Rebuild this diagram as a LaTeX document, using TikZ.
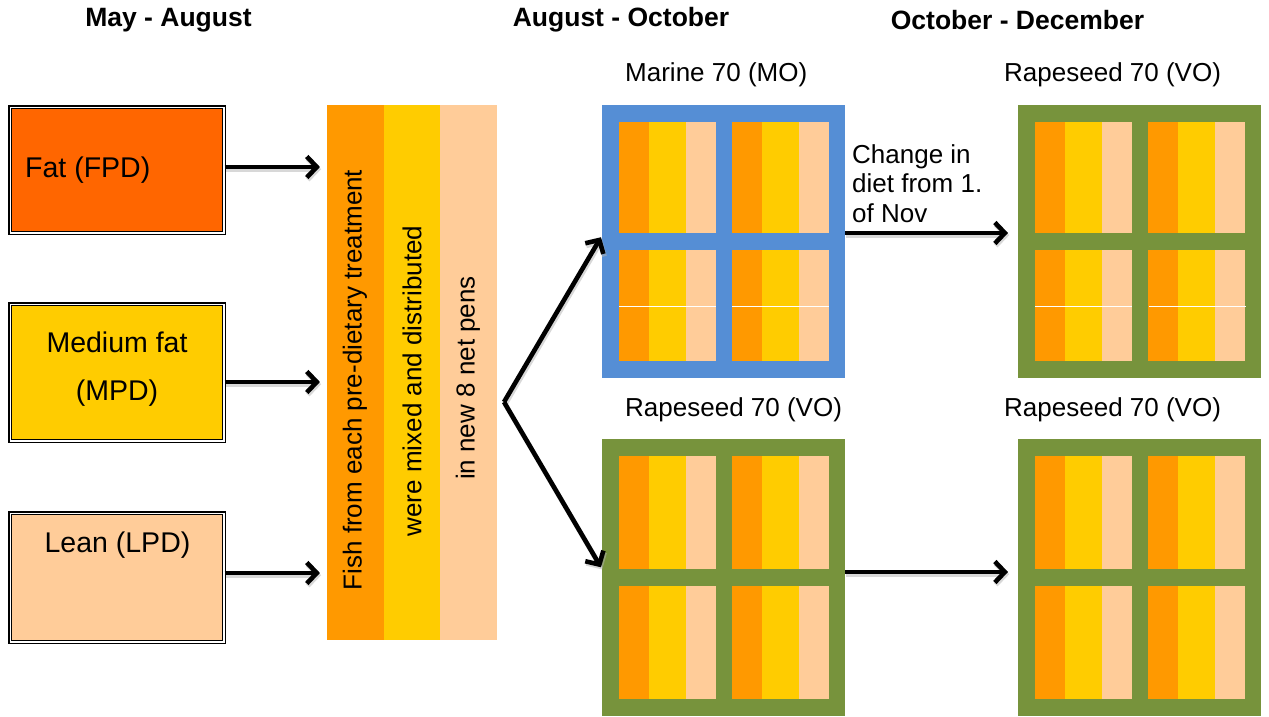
\documentclass[tikz,border=0pt]{standalone}
\usepackage{fontspec}
\setmainfont{Liberation Sans}
\usetikzlibrary{arrows.meta,calc}

\definecolor{fatfill}{HTML}{FF6600}
\definecolor{orng}{HTML}{FF9900}
\definecolor{yell}{HTML}{FFCC00}
\definecolor{peach}{HTML}{FFCC99}
\definecolor{penblue}{HTML}{558ED5}
\definecolor{pengreen}{HTML}{77933C}

\tikzset{
  groupbox/.style={draw=black, line width=1.5pt, double=white, double distance=1.2pt,
    minimum width=213.8pt, inner sep=0pt},
  stripe/.style={minimum width=56.7pt, minimum height=535pt, inner sep=0pt},
  penframe/.style={minimum width=243pt, inner sep=0pt, outer sep=0pt},
  body/.style={font=\fontsize{26}{30}\selectfont, inner sep=0pt},
  boxtext/.style={font=\fontsize{28.5}{32}\selectfont, inner sep=0pt},
  head/.style={font=\fontsize{26.5}{30}\selectfont\bfseries, inner sep=0pt},
  conn/.style={line width=4.6pt, -{Straight Barb[length=10pt,width=21pt]},
    preaction={draw=black!30, opacity=0.5, line width=5pt,
      transform canvas={shift={(1.2pt,-2.2pt)}}}},
}

% one net-pen block: frame plus four cells of three stripes each
% #1 name, #2 left x, #3 top y, #4 height, #5 frame colour
\newcommand\netpen[5]{%
  \node[penframe, fill=#5, minimum height=#4pt, anchor=north west] (#1) at (#2,#3) {};
  \pgfmathsetmacro\cellh{(#4-51)/2}%
  \pgfmathsetmacro\rowtwo{34+\cellh}%
  \foreach \cx in {17,130}{
    \foreach \ry in {17,\rowtwo}{
      \fill[orng]  (#2+\cx,#3+\ry)    rectangle ++(30,\cellh);
      \fill[yell]  (#2+\cx+30,#3+\ry) rectangle ++(37,\cellh);
      \fill[peach] (#2+\cx+67,#3+\ry) rectangle ++(29.5,\cellh);
    }
  }%
}

\begin{document}
\begin{tikzpicture}[x=1pt,y=-1pt]
\useasboundingbox (0,0) rectangle (1269,716);

% period headings
\node[head] (h1) at (168.5,20) {May - August};
\node[head] (h2) at (621,20) {August - October};
\node[head] (h3) at (1017.5,20) {October - December};

% pre-diet groups
\node[groupbox, fill=fatfill, minimum height=125.8pt] (fat) at (117,170) {};
\node[groupbox, fill=yell, minimum height=136.8pt] (med) at (117,372.5) {};
\node[groupbox, fill=peach, minimum height=128.8pt] (lean) at (117,577.5) {};
\node[boxtext, anchor=west] (fatt) at (25,170) {Fat (FPD)};
\node[boxtext] (medt1) at (117,342) {Medium fat};
\node[boxtext] (medt2) at (117,393) {(MPD)};
\node[boxtext] (leant) at (117.5,545) {Lean (LPD)};

% mixing column
\node[stripe, fill=orng]  (colA) at (355.5,372.5) {};
\node[stripe, fill=yell]  (colB) at (412.2,372.5) {};
\node[stripe, fill=peach] (colC) at (468.8,372.5) {};
\node[body, rotate=90] (tA) at (355,380) {Fish from each pre-dietary treatment};
\node[body, rotate=90] (tB) at (412,381) {were mixed and distributed};
\node[body, rotate=90] (tC) at (468,378) {in new 8 net pens};

% net pens
\netpen{mo}{602}{105}{273}{penblue}
\netpen{vo1}{602}{439}{277}{pengreen}
\netpen{vo2}{1018}{105}{273}{pengreen}
\netpen{vo3}{1018}{439}{277}{pengreen}
\foreach \px in {619,732,1035,1149}{
  \draw[white, line width=1pt] (\px,306) -- ++(96.5,0);
}

% pen labels
\node[body, anchor=west] (lmo) at (625,75) {Marine 70 (MO)};
\node[body, anchor=west] (lvo1) at (625,410) {Rapeseed 70 (VO)};
\node[body, anchor=west] (lvo2) at (1004,75) {Rapeseed 70 (VO)};
\node[body, anchor=west] (lvo3) at (1004,410) {Rapeseed 70 (VO)};
\node[body, anchor=north west, align=left, font=\fontsize{26}{29.5}\selectfont]
  (chg) at (852,144) {Change in\\diet from 1.\\of Nov};

% connectors
\draw[conn, shorten >=7pt] ([yshift=3pt]fat.east) -- ([yshift=3pt]fat.east -| colA.west);
\draw[conn, shorten >=7pt] ([yshift=-9.5pt]med.east) -- ([yshift=-9.5pt]med.east -| colA.west);
\draw[conn, shorten >=7pt] ([yshift=4.5pt]lean.east) -- ([yshift=4.5pt]lean.east -| colA.west);

\coordinate (fork) at (504,402);
\draw[conn, shorten >=2pt] (fork) -- ([yshift=6pt]mo.west);
\draw[conn, shorten >=2pt] (fork) -- ([yshift=8.5pt]vo1.west);

\draw[conn, shorten >=10pt] ([yshift=8.5pt]mo.east) -- ([yshift=8.5pt]vo2.west);
\draw[conn, shorten >=10pt] ([yshift=5.5pt]vo1.east) -- ([yshift=5.5pt]vo3.west);
\end{tikzpicture}
\end{document}
